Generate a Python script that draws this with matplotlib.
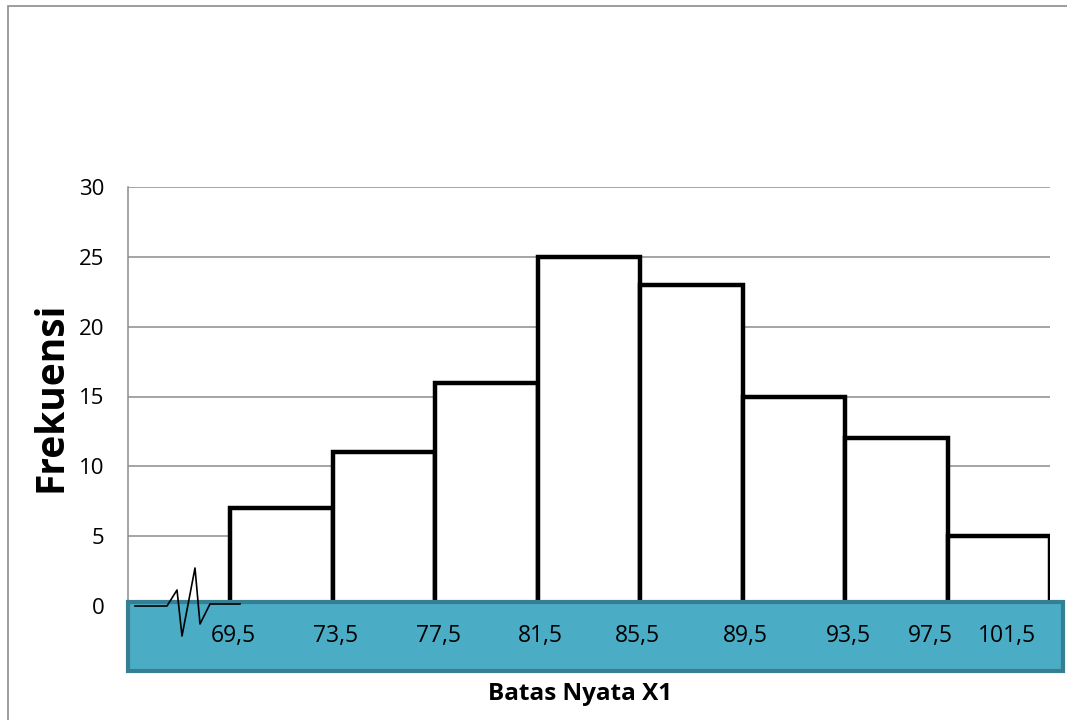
import numpy as np
import matplotlib.pyplot as plt
from matplotlib.patches import Rectangle

# Frequency distribution (class boundaries vs frequency)
batas = ["69,5", "73,5", "77,5", "81,5", "85,5", "89,5", "93,5", "97,5", "101,5"]
frekuensi = [7, 11, 16, 25, 23, 15, 12, 5]

W, H = 1067, 720
fig = plt.figure(figsize=(W / 100, H / 100), dpi=100)
plt.rcParams['font.family'] = ['Open Sans', 'DejaVu Sans']


def px(x, y):
    # pixel position -> figure fraction
    return x / W, 1 - y / H


# outer chart border
fig.patches.append(Rectangle(px(8, 730), (1080 - 8) / W, (730 - 6) / H,
                             transform=fig.transFigure, fill=False,
                             edgecolor="#8c8c8c", linewidth=1.2, zorder=0))

ax = fig.add_axes([128 / W, 1 - 606 / H, (1050 - 128) / W, (606 - 187) / H])

# bars start one bin to the right of the axis (broken axis)
x = np.arange(1, len(frekuensi) + 1)
ax.bar(x, frekuensi, width=1.0, align="edge", facecolor="white",
       edgecolor="black", linewidth=3.2, zorder=3)

ax.set_xlim(0, len(frekuensi) + 1)
ax.set_ylim(0, 30)
ax.set_yticks(range(0, 31, 5))
ax.tick_params(axis="y", length=0, pad=17, labelsize=16)
ax.set_xticks([])
ax.grid(axis="y", color="#8c8c8c", linewidth=1.1, zorder=0)
for s in ["top", "right", "bottom"]:
    ax.spines[s].set_visible(False)
ax.spines["left"].set_color("#8c8c8c")
ax.spines["left"].set_linewidth(1.1)

ax.set_ylabel("Frekuensi", fontsize=28, fontweight="bold", labelpad=6)

# teal band under the axis holding the boundary labels
fig.patches.append(Rectangle(px(128, 671), (1063 - 128) / W, (671 - 602) / H,
                             transform=fig.transFigure, facecolor="#4bacc6",
                             edgecolor="#367e92", linewidth=3, zorder=5))

# label positions: at each boundary, last two nudged left
shift = [0, 0, 0, 0, -0.06, 0, 0, -0.2, -0.45]
for i, lab in enumerate(batas):
    xx = 1 + i + shift[i]
    fig.text(xx + 0.03, -2.15, lab, transform=ax.transData, ha="center",
             va="center", fontsize=16.5, zorder=10)

# axis break zigzag
zz = [(135, 606), (167, 606), (177, 590), (182, 636), (195, 568),
      (200, 624), (210, 604), (240, 604)]
zx, zy = zip(*[px(a, b) for a, b in zz])
fig.lines.append(plt.Line2D(zx, zy, transform=fig.transFigure, color="black",
                            linewidth=1.2, zorder=12))

fig.text(580 / W, 1 - 694 / H, "Batas Nyata X1", ha="center", va="center",
         fontsize=17.5, fontweight="bold")

fig.savefig("out.png", dpi=100)
